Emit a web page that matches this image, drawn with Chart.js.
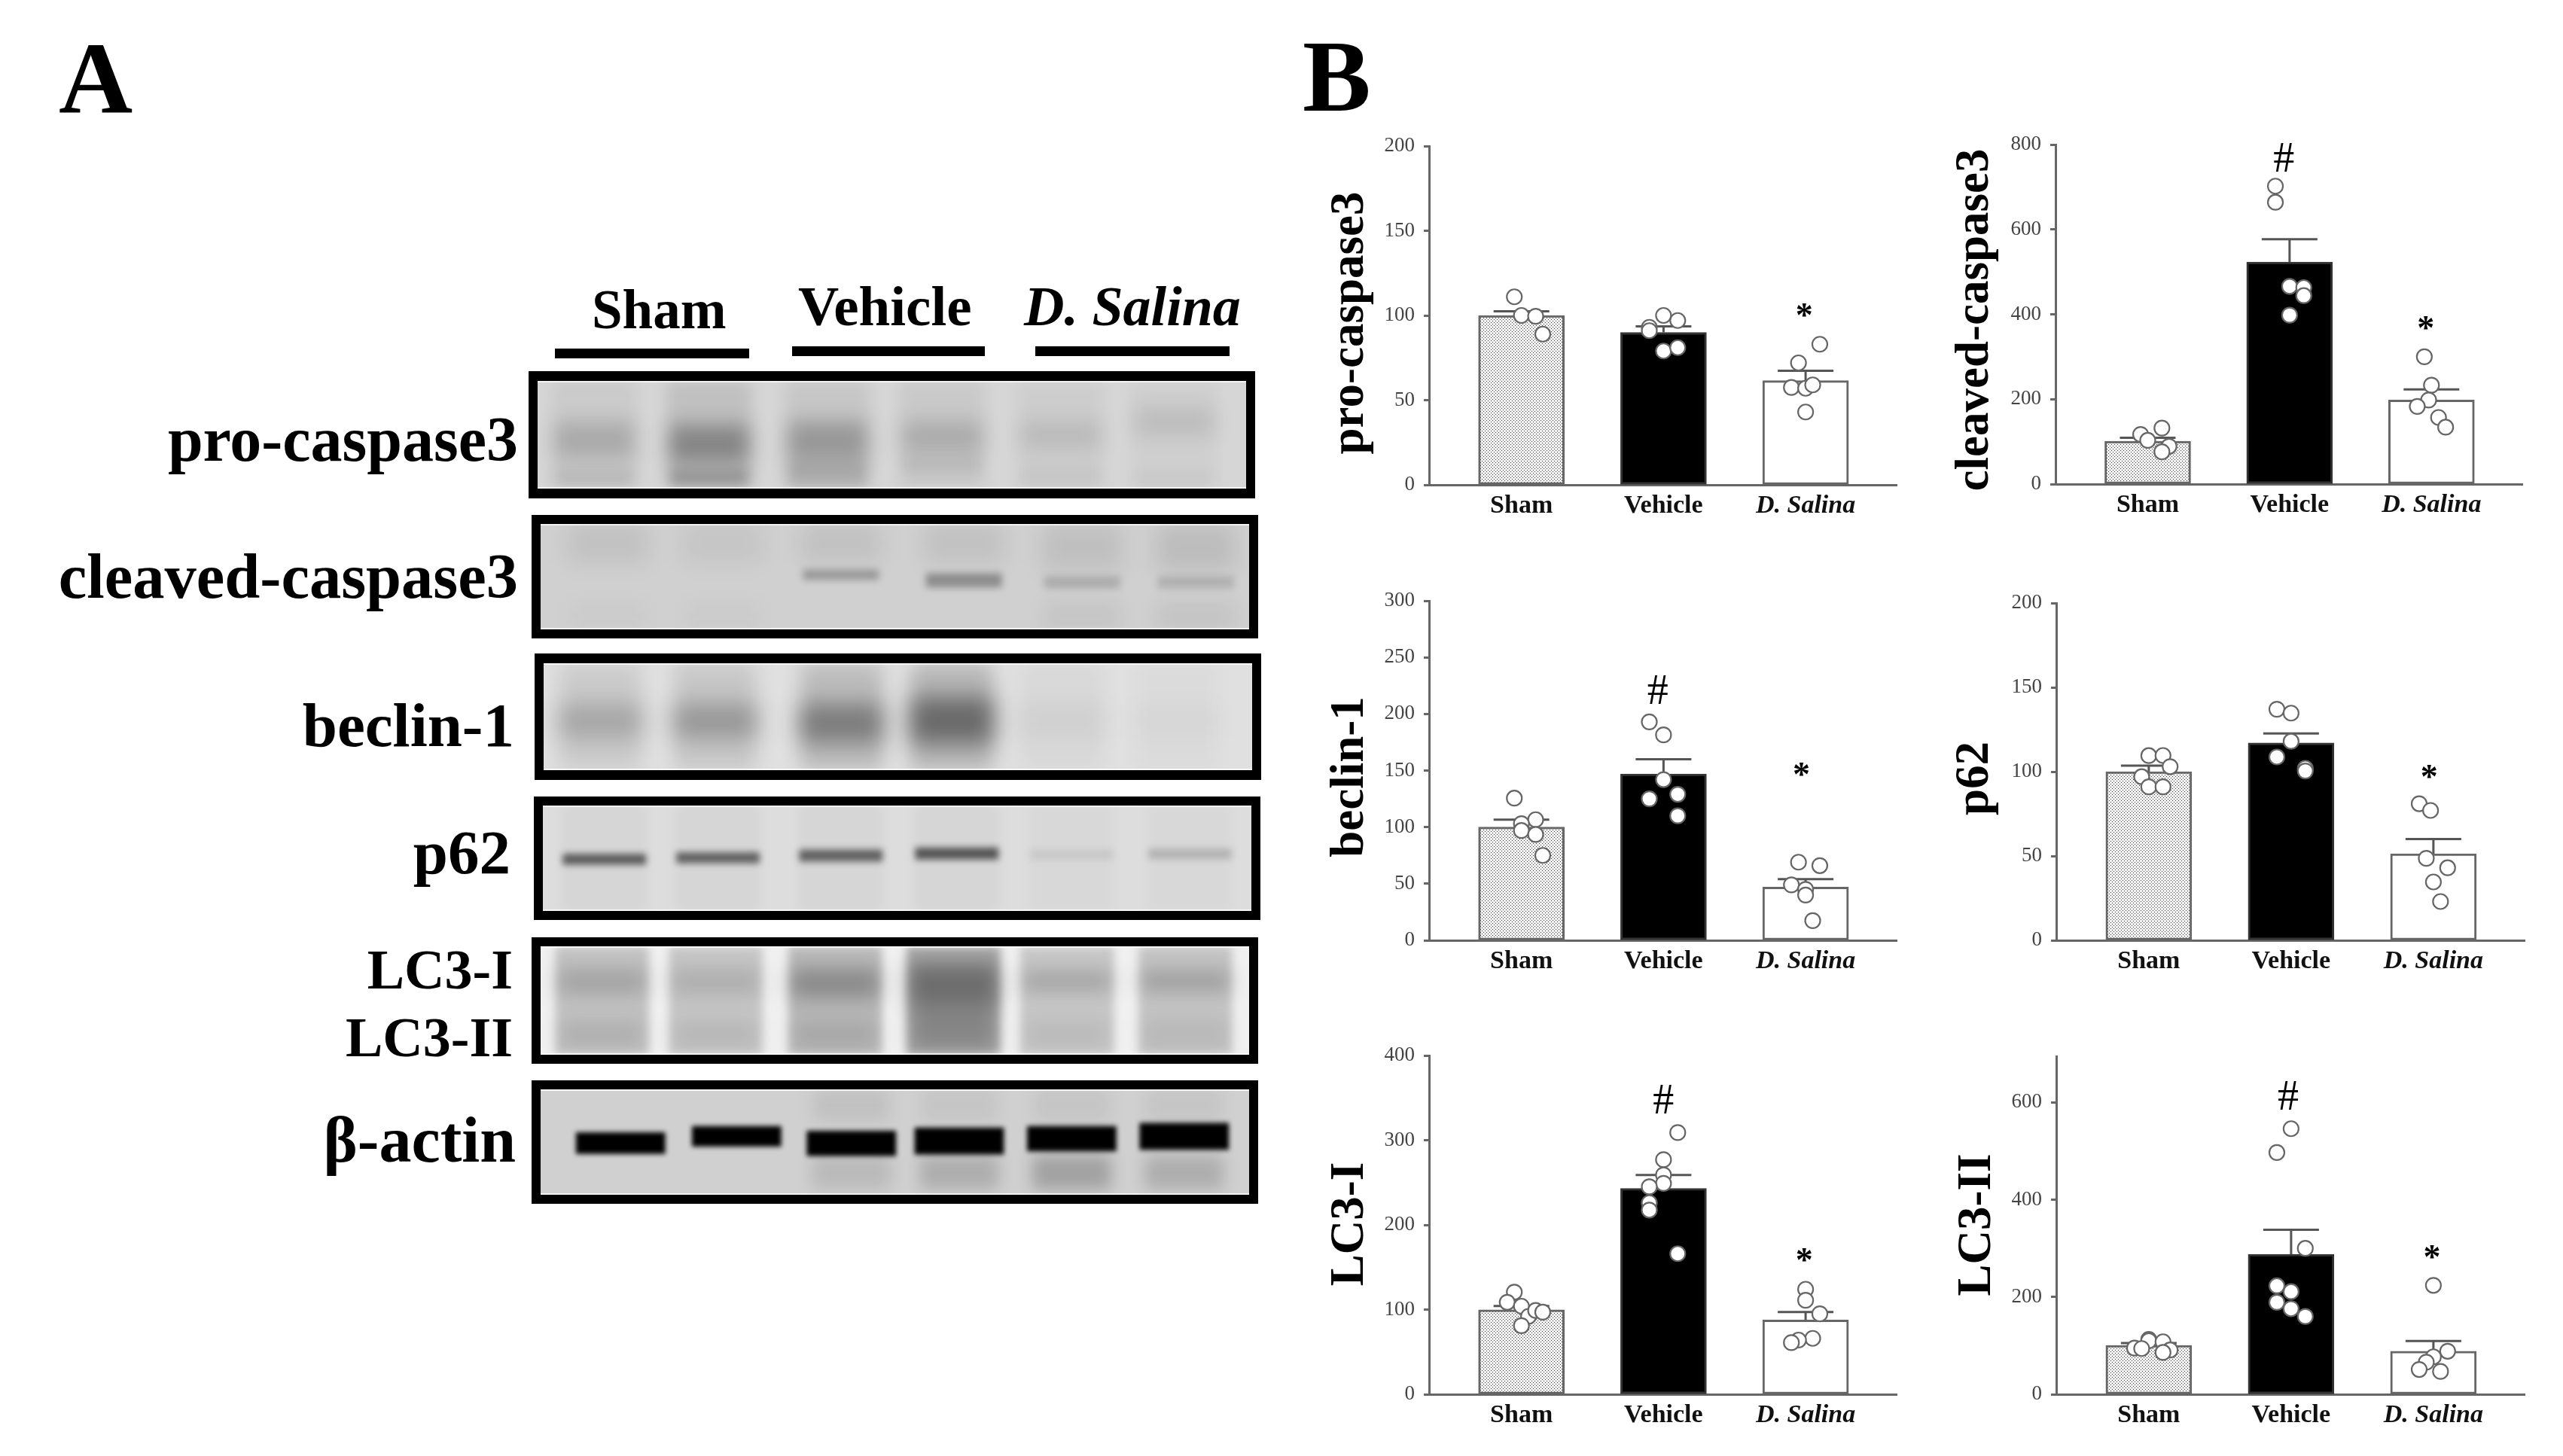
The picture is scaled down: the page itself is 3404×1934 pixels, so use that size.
<!DOCTYPE html>
<html>
<head>
<meta charset="utf-8">
<title>Western blots and densitometry</title>
<script src="https://cdn.jsdelivr.net/npm/chart.js@4/dist/chart.umd.min.js"></script>
<style>
  html, body { margin: 0; padding: 0; background: #fff; }
  #page { position: relative; width: 3404px; height: 1934px; overflow: hidden; background: #fff; }
  #page canvas { position: absolute; }
  .txt { position: absolute; white-space: nowrap; line-height: 1; color: #000;
         font-family: "Liberation Serif", serif; font-weight: bold; }
  .rule { position: absolute; background: #000; }
</style>
</head>
<body>
<div id="page"></div>
<script>
// bar chart data
var groupNames = ["Sham", "Vehicle", "D. Salina"];
var groupPositions = [1, 2, 3];

var proCaspaseMeans = [100, 90, 61.5];
var proCaspaseErrors = [2.5, 3.6, 5.8];
var proCaspaseTicks = [0, 50, 100, 150, 200];
var proCaspaseDotX = [0.95, 1, 1.1, 1.15, 1.9, 1.9, 2, 2, 2.1, 2.1, 2.9, 2.95, 3, 3, 3.05, 3.1];
var proCaspaseDotY = [111, 100, 99.5, 89, 93, 91, 100, 79, 97, 81, 57.5, 72, 57, 43, 59, 83];
var proCaspaseMarkX = [2.99];
var proCaspaseMarkY = [103];
var proCaspaseMarkText = ["*"];

var cleavedMeans = [101, 523, 198];
var cleavedErrors = [8, 54, 25];
var cleavedTicks = [0, 200, 400, 600, 800];
var cleavedDotX = [1.1, 0.95, 1, 1.15, 1.1, 1.9, 1.9, 2, 2.1, 2.1, 2, 2.95, 3, 2.98, 2.9, 3.05, 3.1];
var cleavedDotY = [132, 117, 103, 89, 76, 702, 664, 466, 463, 444, 398, 300, 233, 198, 183, 157, 134];
var cleavedMarkX = [1.96, 2.96];
var cleavedMarkY = [770, 379];
var cleavedMarkText = ["#", "*"];

var beclinMeans = [100, 147, 47];
var beclinErrors = [6.6, 13, 7];
var beclinTicks = [0, 50, 100, 150, 200, 250, 300];
var beclinDotX = [0.95, 1.1, 1, 1, 1.1, 1.15, 1.9, 2, 2, 2.1, 1.9, 2.1, 2.95, 3.1, 2.9, 3, 3, 3.05];
var beclinDotY = [125.6, 106.6, 103, 97, 93.5, 75, 193, 181.5, 142, 129, 125, 110, 69, 66, 49, 45, 40, 17.4];
var beclinMarkX = [1.96, 2.97];
var beclinMarkY = [221.5, 150.6];
var beclinMarkText = ["#", "*"];

var p62Means = [100, 117, 51.3];
var p62Errors = [3.6, 5.7, 8.7];
var p62Ticks = [0, 50, 100, 150, 200];
var p62DotX = [1, 1.1, 1.15, 0.95, 1, 1.1, 1.9, 2, 2, 1.9, 2.1, 2.1, 2.9, 2.98, 2.95, 3.1, 3, 3.05];
var p62DotY = [109.5, 109.6, 103, 97, 91, 91, 137, 134.7, 118, 108.7, 102, 100.4, 81, 77, 48.6, 43, 34.6, 23];
var p62MarkX = [2.97];
var p62MarkY = [100];
var p62MarkText = ["*"];

var lc3OneMeans = [99.7, 243, 87.6];
var lc3OneErrors = [4.5, 16, 9.5];
var lc3OneTicks = [0, 100, 200, 300, 400];
var lc3OneDotX = [0.95, 0.9, 1, 1.05, 1.1, 1.15, 1, 2.1, 2, 2, 2, 1.9, 1.9, 1.9, 2.1, 3, 3, 3.1, 3.05, 2.95, 2.9];
var lc3OneDotY = [120.6, 108.6, 104, 92, 99, 97, 81, 309, 277, 259, 249, 245, 226, 217.5, 166, 124, 111, 95, 66, 64, 61];
var lc3OneMarkX = [2, 2.99];
var lc3OneMarkY = [348, 164];
var lc3OneMarkText = ["#", "*"];

var lc3TwoMeans = [100.6, 287.6, 88.5];
var lc3TwoErrors = [4.5, 50.5, 21];
var lc3TwoTicks = [0, 200, 400, 600];
var lc3TwoDotX = [1, 1, 1.1, 0.9, 1.15, 1.1, 0.95, 2, 1.9, 2.1, 1.9, 2, 1.9, 2, 2.1, 3, 3.1, 3, 2.95, 2.9, 3.05];
var lc3TwoDotY = [113, 110, 108, 95, 91, 86, 94, 546, 497, 300, 223, 211, 189, 176, 160, 224, 88.5, 77, 66, 51, 47];
var lc3TwoMarkX = [1.98, 2.99];
var lc3TwoMarkY = [614, 292];
var lc3TwoMarkText = ["#", "*"];

// blot bands: lane position across the membrane, band edges in % of membrane height, darkness 0-1
var proBlotLanes = [0.49, 1.48, 2.5, 3.49, 4.51, 5.49];
var proBlotSmear = [0.05, 0.1, 0.07, 0.06, 0.04, 0.03];
var proBlotMainTop = [38, 41, 38, 38, 38, 26];
var proBlotMainBottom = [72, 76, 75, 66, 62, 50];
var proBlotMainLevel = [0.16, 0.3, 0.23, 0.15, 0.09, 0.09];
var proBlotLowTop = [82, 82, 76, 70, 80, 84];
var proBlotLowBottom = [98, 98, 98, 86, 98, 98];
var proBlotLowLevel = [0.08, 0.2, 0.12, 0.06, 0.03, 0.02];

var cleavedBlotLanes = [0.58, 1.57, 2.59, 3.65, 4.67, 5.65];
var cleavedBlotUpper = [0.07, 0.05, 0.07, 0.07, 0.08, 0.09];
var cleavedBlotMainTop = [44, 44, 43.6, 47, 50, 50];
var cleavedBlotMainBottom = [50, 50, 53, 60, 61, 61];
var cleavedBlotMainLevel = [0, 0, 0.26, 0.32, 0.16, 0.14];
var cleavedBlotLower = [0.02, 0.02, 0, 0, 0.05, 0.06];

var beclinBlotLanes = [0.49, 1.48, 2.57, 3.52, 4.47, 5.46];
var beclinBlotSmear = [0.09, 0.11, 0.16, 0.18, 0.03, 0.02];
var beclinBlotMainTop = [38, 38, 38, 32, 38, 38];
var beclinBlotMainBottom = [70, 70, 74, 75, 70, 70];
var beclinBlotMainLevel = [0.18, 0.24, 0.34, 0.42, 0.04, 0.02];

var p62BlotLanes = [0.53, 1.51, 2.57, 3.57, 4.56, 5.58];
var p62BlotMainTop = [46, 44.5, 42, 40, 42, 41];
var p62BlotMainBottom = [56, 54.5, 53, 51, 51, 51];
var p62BlotMainLevel = [0.56, 0.54, 0.54, 0.6, 0.07, 0.16];
var p62BlotSmear = [0.03, 0.03, 0.03, 0.03, 0.02, 0.02];

var lc3BlotLanes = [0.53, 1.51, 2.54, 3.56, 4.54, 5.56];
var lc3BlotSmear = [0.18, 0.17, 0.22, 0.3, 0.17, 0.18];
var lc3BlotUpperTop = [20, 20, 20, 16, 24, 24];
var lc3BlotUpperBottom = [45, 45, 48, 52, 40, 40];
var lc3BlotUpperLevel = [0.16, 0.12, 0.26, 0.34, 0.2, 0.22];
var lc3BlotLowerLevel = [0.1, 0.08, 0.1, 0.2, 0.06, 0.06];

var actinBlotLanes = [0.69, 1.69, 2.68, 3.61, 4.58, 5.55];
var actinBlotMainTop = [41, 35, 39.5, 36.5, 35, 32];
var actinBlotMainBottom = [61, 54, 63, 61.5, 58.5, 57];
var actinBlotMainLevel = [1, 1, 1, 1, 1, 1];
var actinBlotLower = [0, 0, 0.1, 0.16, 0.22, 0.16];
var actinBlotUpper = [0, 0, 0.07, 0.05, 0.05, 0.05];

var page = document.getElementById("page");

function addText(text, x, baseline, size, anchor, italic) {
  var el = document.createElement("div");
  el.className = "txt";
  el.textContent = text;
  el.style.fontSize = size + "px";
  el.style.top = (baseline - size * 0.8375) + "px";
  if (anchor === "right") {
    el.style.right = (3404 - x) + "px";
  } else {
    el.style.left = x + "px";
  }
  if (italic) el.style.fontStyle = "italic";
  page.appendChild(el);
}

function addRule(x, y, w, h) {
  var el = document.createElement("div");
  el.className = "rule";
  el.style.left = x + "px";
  el.style.top = y + "px";
  el.style.width = w + "px";
  el.style.height = h + "px";
  page.appendChild(el);
}

function stipple() {
  var c = document.createElement("canvas");
  c.width = 4;
  c.height = 4;
  var g = c.getContext("2d");
  g.fillStyle = "#f1f1f1";
  g.fillRect(0, 0, 4, 4);
  g.fillStyle = "#3c3c3c";
  g.fillRect(0, 0, 1, 1);
  g.fillRect(2, 2, 1, 1);
  return g.createPattern(c, "repeat");
}

function drawPanel(x0, x1, yTop, yZero, cfg) {
  var canvas = document.createElement("canvas");
  var left = x0 - 170;
  var top = yTop - 30;
  canvas.width = x1 - x0 + 180;
  canvas.height = yZero - yTop + 90;
  canvas.style.left = left + "px";
  canvas.style.top = top + "px";
  page.appendChild(canvas);

  var dots = cfg.dotX.map(function (x, i) { return { x: x, y: cfg.dotY[i] }; });
  var bars = groupPositions.map(function (x, i) { return { x: x, y: cfg.means[i] }; });

  var annotate = {
    id: "annotate",
    afterDatasetDraw: function (chart, args) {
      if (args.meta.type !== "bar") return;
      var ctx = chart.ctx;
      var xs = chart.scales.x;
      var ys = chart.scales.y;
      ctx.save();
      ctx.strokeStyle = "#555";
      ctx.lineWidth = 3;
      groupPositions.forEach(function (g, i) {
        var px = xs.getPixelForValue(g);
        var from = ys.getPixelForValue(cfg.means[i]);
        var to = ys.getPixelForValue(cfg.means[i] + cfg.errors[i]);
        ctx.beginPath();
        ctx.moveTo(px, from);
        ctx.lineTo(px, to);
        ctx.moveTo(px - 37, to);
        ctx.lineTo(px + 37, to);
        ctx.stroke();
      });
      ctx.restore();
    },
    afterDraw: function (chart) {
      var ctx = chart.ctx;
      var xs = chart.scales.x;
      var ys = chart.scales.y;
      ctx.save();
      ctx.fillStyle = "#000";
      ctx.textAlign = "center";
      ctx.textBaseline = "middle";
      cfg.markText.forEach(function (t, i) {
        var star = t === "*";
        ctx.font = star ? "bold 46px 'Liberation Serif'" : "56px 'Liberation Serif'";
        ctx.fillText(t, xs.getPixelForValue(cfg.markX[i]), ys.getPixelForValue(cfg.markY[i]) + (star ? 10 : 4));
      });
      ctx.translate(cfg.titleX - left, cfg.titleY - top);
      ctx.rotate(-Math.PI / 2);
      ctx.textBaseline = "alphabetic";
      ctx.font = "bold 63px 'Liberation Serif'";
      ctx.fillText(cfg.title, 0, 0);
      ctx.restore();
    }
  };

  new Chart(canvas.getContext("2d"), {
    type: "bar",
    data: {
      datasets: [
        {
          type: "scatter",
          data: dots,
          order: 0,
          pointRadius: 10,
          pointBorderWidth: 2.2,
          pointBorderColor: "#666",
          pointBackgroundColor: "#fff"
        },
        {
          type: "bar",
          data: bars,
          order: 1,
          grouped: false,
          barThickness: 114,
          borderWidth: 3,
          borderSkipped: false,
          borderColor: ["#666", "#333", "#666"],
          backgroundColor: [stipple(), "#000", "#fff"]
        }
      ]
    },
    options: {
      responsive: false,
      animation: false,
      devicePixelRatio: 1,
      layout: { padding: { top: 30, right: 10, left: 0, bottom: 0 } },
      plugins: { legend: { display: false }, tooltip: { enabled: false } },
      scales: {
        x: {
          type: "linear",
          offset: false,
          min: 0.35,
          max: 3.645,
          afterFit: function (s) { s.height = 60; },
          afterBuildTicks: function (s) {
            s.ticks = groupPositions.map(function (v) { return { value: v }; });
          },
          grid: { display: false },
          border: { display: true, color: "#666", width: 3 },
          ticks: {
            autoSkip: false,
            maxRotation: 0,
            padding: 0,
            color: "#111",
            callback: function (v) { return groupNames[v - 1]; },
            font: function (c) {
              return {
                family: "'Liberation Serif'",
                size: 34,
                weight: "bold",
                style: c.index === 2 ? "italic" : "normal"
              };
            }
          }
        },
        y: {
          min: 0,
          max: cfg.yMax,
          afterFit: function (s) { s.width = 170; },
          afterBuildTicks: function (s) {
            s.ticks = cfg.ticks.map(function (v) { return { value: v }; });
          },
          grid: { drawOnChartArea: false, drawTicks: true, tickLength: 7, tickWidth: 3, tickColor: "#666" },
          border: { display: true, color: "#666", width: 3 },
          ticks: {
            padding: 12,
            color: "#444",
            font: { family: "'Liberation Serif'", size: 27 }
          }
        }
      }
    },
    plugins: [annotate]
  });
}

// one membrane: each band is an array of floating bars, one per lane
function drawBlot(outerLeft, outerTop, innerW, innerH, frameX, frameY, background, lanes, bands) {
  addRule(outerLeft, outerTop, innerW + frameX * 2, innerH + frameY * 2);
  var canvas = document.createElement("canvas");
  canvas.width = innerW;
  canvas.height = innerH;
  canvas.style.left = (outerLeft + frameX) + "px";
  canvas.style.top = (outerTop + frameY) + "px";
  page.appendChild(canvas);

  var membrane = {
    id: "membrane",
    beforeDraw: function (chart) {
      chart.ctx.fillStyle = background;
      chart.ctx.fillRect(0, 0, chart.width, chart.height);
    },
    beforeDatasetDraw: function (chart, args) {
      chart.ctx.save();
      chart.ctx.filter = "blur(" + bands[args.index].blur + "px)";
    },
    afterDatasetDraw: function (chart) {
      chart.ctx.restore();
    },
    afterDraw: function (chart) {
      var ctx = chart.ctx;
      ctx.fillStyle = "rgba(255,255,255,0.75)";
      ctx.fillRect(0, 0, chart.width, 2);
      ctx.fillRect(0, chart.height - 2, chart.width, 2);
    }
  };

  new Chart(canvas.getContext("2d"), {
    type: "bar",
    data: {
      datasets: bands.map(function (band, n) {
        return {
          data: lanes.map(function (x, i) {
            return { x: x, y: [band.top[i], band.bottom[i]] };
          }),
          grouped: false,
          order: bands.length - n,
          barThickness: band.wide,
          borderWidth: 0,
          backgroundColor: band.level.map(function (a) { return "rgba(0,0,0," + a + ")"; })
        };
      })
    },
    options: {
      responsive: false,
      animation: false,
      devicePixelRatio: 1,
      layout: { padding: 0 },
      plugins: { legend: { display: false }, tooltip: { enabled: false } },
      scales: {
        x: { type: "linear", offset: false, min: 0, max: 6.11, display: false },
        y: { min: 0, max: 100, reverse: true, display: false }
      }
    },
    plugins: [membrane]
  });
}

var fullTop = [0, 0, 0, 0, 0, 0];
var fullBottom = [100, 100, 100, 100, 100, 100];

addText("A", 78, 150, 136);
addText("B", 1730, 147, 136);

addText("Sham", 786, 436, 73);
addText("Vehicle", 1060, 432, 75);
addText("D. Salina", 1360, 432, 74, "left", true);
addRule(737, 463, 258, 13);
addRule(1052, 460, 256, 13);
addRule(1375, 460, 258, 13);

addText("pro-caspase3", 688, 612, 84, "right");
addText("cleaved-caspase3", 688, 795, 84.5, "right");
addText("beclin-1", 683, 992, 83, "right");
addText("p62", 678, 1161, 83, "right");
addText("LC3-I", 681, 1313, 74, "right");
addText("LC3-II", 681, 1403, 74, "right");
addText("\u03b2-actin", 685, 1543, 86, "right");

drawBlot(702, 493, 941, 143, 12, 13, "#d6d6d6", proBlotLanes, [
  { top: fullTop, bottom: fullBottom, level: proBlotSmear, wide: 112, blur: 10 },
  { top: proBlotMainTop, bottom: proBlotMainBottom, level: proBlotMainLevel, wide: 104, blur: 13 },
  { top: proBlotLowTop, bottom: proBlotLowBottom, level: proBlotLowLevel, wide: 104, blur: 8 }
]);
drawBlot(706, 684, 941, 140, 12, 12, "#d0d0d0", cleavedBlotLanes, [
  { top: [0, 0, 0, 0, 0, 0], bottom: [36, 36, 36, 36, 44, 44], level: cleavedBlotUpper, wide: 104, blur: 14 },
  { top: cleavedBlotMainTop, bottom: cleavedBlotMainBottom, level: cleavedBlotMainLevel, wide: 100, blur: 5 },
  { top: [74, 74, 74, 74, 74, 74], bottom: fullBottom, level: cleavedBlotLower, wide: 100, blur: 12 }
]);
drawBlot(710, 868, 941, 142, 12, 13, "#e0e0e0", beclinBlotLanes, [
  { top: fullTop, bottom: fullBottom, level: beclinBlotSmear, wide: 108, blur: 12 },
  { top: beclinBlotMainTop, bottom: beclinBlotMainBottom, level: beclinBlotMainLevel, wide: 112, blur: 15 }
]);
drawBlot(709, 1058, 941, 140, 12, 12, "#dddddd", p62BlotLanes, [
  { top: fullTop, bottom: fullBottom, level: p62BlotSmear, wide: 112, blur: 8 },
  { top: p62BlotMainTop, bottom: p62BlotMainBottom, level: p62BlotMainLevel, wide: 110, blur: 4 }
]);
drawBlot(706, 1245, 941, 144, 12, 12, "#f0f0f0", lc3BlotLanes, [
  { top: fullTop, bottom: fullBottom, level: lc3BlotSmear, wide: 124, blur: 6 },
  { top: lc3BlotUpperTop, bottom: lc3BlotUpperBottom, level: lc3BlotUpperLevel, wide: 118, blur: 13 },
  { top: [68, 68, 68, 50, 68, 68], bottom: [94, 94, 94, 94, 94, 94], level: lc3BlotLowerLevel, wide: 110, blur: 13 }
]);
drawBlot(706, 1435, 941, 140, 12, 12, "#d0d0d0", actinBlotLanes, [
  { top: fullTop, bottom: [30, 30, 30, 30, 30, 30], level: actinBlotUpper, wide: 100, blur: 10 },
  { top: [63, 63, 63, 63, 63, 63], bottom: [95, 95, 95, 95, 95, 95], level: actinBlotLower, wide: 104, blur: 10 },
  { top: actinBlotMainTop, bottom: actinBlotMainBottom, level: actinBlotMainLevel, wide: 118, blur: 3 }
]);

drawPanel(1898, 2522, 194, 644, {
  means: proCaspaseMeans, errors: proCaspaseErrors, ticks: proCaspaseTicks, yMax: 200,
  dotX: proCaspaseDotX, dotY: proCaspaseDotY,
  markX: proCaspaseMarkX, markY: proCaspaseMarkY, markText: proCaspaseMarkText,
  title: "pro-caspase3", titleX: 1810, titleY: 429
});
drawPanel(2730, 3353, 192, 643, {
  means: cleavedMeans, errors: cleavedErrors, ticks: cleavedTicks, yMax: 800,
  dotX: cleavedDotX, dotY: cleavedDotY,
  markX: cleavedMarkX, markY: cleavedMarkY, markText: cleavedMarkText,
  title: "cleaved-caspase3", titleX: 2640, titleY: 425
});
drawPanel(1898, 2522, 798, 1249, {
  means: beclinMeans, errors: beclinErrors, ticks: beclinTicks, yMax: 300,
  dotX: beclinDotX, dotY: beclinDotY,
  markX: beclinMarkX, markY: beclinMarkY, markText: beclinMarkText,
  title: "beclin-1", titleX: 1810, titleY: 1032
});
drawPanel(2731, 3356, 801, 1249, {
  means: p62Means, errors: p62Errors, ticks: p62Ticks, yMax: 200,
  dotX: p62DotX, dotY: p62DotY,
  markX: p62MarkX, markY: p62MarkY, markText: p62MarkText,
  title: "p62", titleX: 2640, titleY: 1034
});
drawPanel(1898, 2522, 1402, 1852, {
  means: lc3OneMeans, errors: lc3OneErrors, ticks: lc3OneTicks, yMax: 400,
  dotX: lc3OneDotX, dotY: lc3OneDotY,
  markX: lc3OneMarkX, markY: lc3OneMarkY, markText: lc3OneMarkText,
  title: "LC3-I", titleX: 1810, titleY: 1626
});
drawPanel(2731, 3356, 1403, 1852, {
  means: lc3TwoMeans, errors: lc3TwoErrors, ticks: lc3TwoTicks, yMax: 695,
  dotX: lc3TwoDotX, dotY: lc3TwoDotY,
  markX: lc3TwoMarkX, markY: lc3TwoMarkY, markText: lc3TwoMarkText,
  title: "LC3-II", titleX: 2643, titleY: 1627
});
</script>
</body>
</html>
